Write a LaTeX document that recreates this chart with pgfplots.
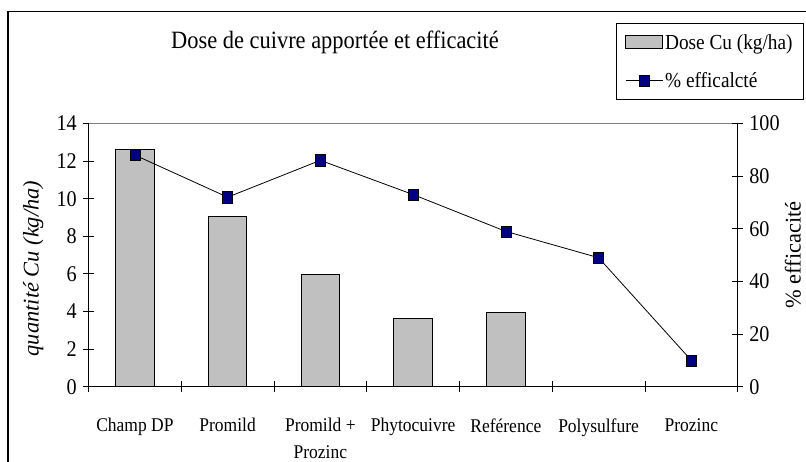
\documentclass[border=0pt]{standalone}
\usepackage{pgfplots}
\pgfplotsset{compat=1.18}
\usepackage{fontspec}
\setmainfont{Liberation Serif}[FakeStretch=0.9]
\newfontfamily\plainserif{Liberation Serif}
\definecolor{bargray}{HTML}{C0C0C0}
\definecolor{navy}{HTML}{000080}

\pgfplotsset{
  linelegend/.style={legend image code/.code={\draw[##1, mark repeat=2, mark phase=2] plot coordinates {(0bp,0bp) (18.5bp,0bp) (37bp,0bp)};}},
  barlegend/.style={legend image code/.code={\draw[fill=bargray, draw=black, line width=0.8bp] (0bp,-6.5bp) rectangle (37bp,6.5bp);}},
}

\pgfplotstableread{
x dose
0 12.6
1 9.03
2 5.95
3 3.65
4 3.94
5 0
6 0
}\dosetable

\pgfplotstableread{
x eff
0 88
1 72
2 86
3 73
4 59
5 49
6 10
}\efftable

\begin{document}
\begin{tikzpicture}
\path[use as bounding box] (0,0) rectangle (806bp,462bp);
\clip (0,0) rectangle (806bp,462bp);
\fill[white] (0,0) rectangle (806bp,462bp);
\draw[line width=1.1bp] (8bp,-30bp) -- (8bp,450.3bp) -- (840bp,450.3bp);

\begin{axis}[
  at={(88.5bp,75.3bp)}, anchor=south west,
  scale only axis, width=649.2bp, height=263.2bp,
  xmin=-0.5, xmax=6.5, ymin=0, ymax=14,
  axis lines*=left,
  axis line style={-, black, line width=0.9bp},
  xtick={-0.5,0.5,1.5,2.5,3.5,4.5,5.5,6.5},
  x tick label as interval,
  xticklabels={Champ DP, Promild, {Promild +\\Prozinc}, Phytocuivre, Reférence, Polysulfure, Prozinc},
  xticklabel style={align=center, font=\fontsize{19.5}{27}\selectfont, anchor=north, inner sep=0pt, yshift=-26bp},
  ytick={0,2,...,14},
  tick align=center, major tick length=11bp,
  tick style={black, line width=0.8bp},
  yticklabel style={font=\fontsize{22.5}{26}\selectfont, anchor=east, inner sep=0pt, xshift=-6bp},
  /pgf/number format/assume math mode=true,
]
\addplot[ybar, bar width=38.4bp, fill=bargray, draw=black, line width=0.9bp] table[x=x, y=dose] {\dosetable};
\draw[gray, line width=0.8bp] (rel axis cs:0,1) -- (rel axis cs:1,1);
\end{axis}

\begin{axis}[
  at={(88.5bp,75.3bp)}, anchor=south west,
  scale only axis, width=649.2bp, height=263.2bp,
  xmin=-0.5, xmax=6.5, ymin=0, ymax=100,
  axis y line*=right, axis x line=none,
  axis line style={-, black, line width=0.9bp},
  ytick={0,20,...,100},
  tick align=center, major tick length=11bp,
  tick style={black, line width=0.8bp},
  yticklabel style={font=\fontsize{22.5}{26}\selectfont, anchor=west, inner sep=0pt, xshift=6bp},
  /pgf/number format/assume math mode=true,
  legend style={at={(rel axis cs:1.1021,1.3807)}, anchor=north east, draw=black, line width=0.8bp,
    font=\fontsize{21.5}{25}\selectfont, inner xsep=9bp, inner ysep=8.5bp, row sep=18bp},
  legend cell align=left,
]
\addlegendimage{barlegend}
\addlegendentry{Dose Cu (kg/ha)}
\addplot[black, line width=0.8bp, mark=square*, mark size=5bp,
  mark options={fill=navy, draw=black, line width=0.5bp, yscale=1.12}, linelegend]
  table[x=x, y=eff] {\efftable};
\addlegendentry{\% efficalcté}
\end{axis}

\node[anchor=base, font=\fontsize{25}{30}\selectfont] at (335bp,413.7bp) {Dose de cuivre apportée et efficacité};
\node[rotate=90, anchor=base, font=\plainserif\itshape\fontsize{22.5}{27}\selectfont] at (38.5bp,193.5bp) {quantité Cu (kg/ha)};
\node[rotate=90, anchor=base, font=\plainserif\fontsize{22.5}{27}\selectfont] at (800.5bp,207bp) {\% efficacité};
\end{tikzpicture}
\end{document}
